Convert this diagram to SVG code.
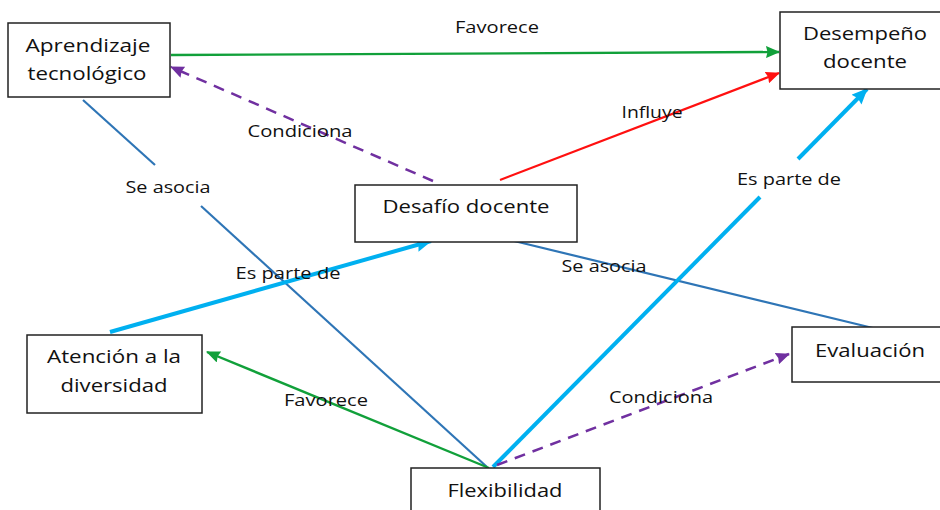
<svg xmlns="http://www.w3.org/2000/svg" width="940" height="510" viewBox="0 0 940 510">
<style>
  .box { fill: #ffffff; stroke: #222222; stroke-width: 1.5; }
  .nt { font-family: "Open Sans", "DejaVu Sans", sans-serif; font-size: 19px; fill: #111111; text-anchor: middle; }
  .lt { font-family: "Open Sans", "DejaVu Sans", sans-serif; font-size: 16px; fill: #111111; text-anchor: middle; }
  .green { stroke: #11A03A; stroke-width: 2.4; fill: none; }
  .red { stroke: #FF1010; stroke-width: 2.2; fill: none; }
  .purple { stroke: #7030A0; stroke-width: 2.5; fill: none; stroke-dasharray: 11 8; }
  .blue { stroke: #2E75B6; stroke-width: 2.2; fill: none; }
  .cyan { stroke: #00B0F0; stroke-width: 4; fill: none; }
</style>
<defs>
  <marker id="aGreen" markerUnits="userSpaceOnUse" markerWidth="14" markerHeight="12" refX="13" refY="6" orient="auto"><path d="M0,0 L14,6 L0,12 L1.5,6 z" fill="#11A03A"/></marker>
  <marker id="aRed" markerUnits="userSpaceOnUse" markerWidth="14" markerHeight="12" refX="13" refY="6" orient="auto"><path d="M0,0 L14,6 L0,12 L1.5,6 z" fill="#FF1010"/></marker>
  <marker id="aPurple" markerUnits="userSpaceOnUse" markerWidth="14" markerHeight="12" refX="13" refY="6" orient="auto"><path d="M0,0 L14,6 L0,12 L1.5,6 z" fill="#7030A0"/></marker>
  <marker id="aCyan" markerUnits="userSpaceOnUse" markerWidth="16" markerHeight="14" refX="15" refY="7" orient="auto"><path d="M0,0 L16,7 L0,14 L2,7 z" fill="#00B0F0"/></marker>
</defs>

<g id="connectors">
  <line class="green" x1="171" y1="55" x2="779" y2="52" marker-end="url(#aGreen)"/>
  <line class="purple" x1="433" y1="181" x2="171" y2="67" marker-end="url(#aPurple)"/>
  <line class="red" x1="500" y1="180" x2="779" y2="73" marker-end="url(#aRed)"/>
  <line class="blue" x1="83" y1="100" x2="155" y2="165"/>
  <line class="blue" x1="201" y1="206" x2="487" y2="467"/>
  <line class="cyan" x1="110" y1="332" x2="431" y2="241" marker-end="url(#aCyan)"/>
  <line class="blue" x1="510" y1="240" x2="877" y2="329"/>
  <line class="cyan" x1="493" y1="467" x2="760" y2="197"/>
  <line class="cyan" x1="798" y1="159" x2="867" y2="89" marker-end="url(#aCyan)"/>
  <line class="green" x1="489" y1="468" x2="207" y2="352" marker-end="url(#aGreen)"/>
  <line class="purple" x1="497" y1="465" x2="789" y2="354" marker-end="url(#aPurple)"/>

  <text class="lt" x="497" y="33" textLength="84" lengthAdjust="spacingAndGlyphs">Favorece</text>
  <text class="lt" x="300" y="137" textLength="105" lengthAdjust="spacingAndGlyphs">Condiciona</text>
  <text class="lt" x="168" y="193" textLength="85" lengthAdjust="spacingAndGlyphs">Se asocia</text>
  <text class="lt" x="652" y="118" textLength="61" lengthAdjust="spacingAndGlyphs">Influye</text>
  <text class="lt" x="789" y="185" textLength="104" lengthAdjust="spacingAndGlyphs">Es parte de</text>
  <text class="lt" x="288" y="279" textLength="105" lengthAdjust="spacingAndGlyphs">Es parte de</text>
  <text class="lt" x="604" y="272" textLength="85" lengthAdjust="spacingAndGlyphs">Se asocia</text>
  <text class="lt" x="326" y="406" textLength="84" lengthAdjust="spacingAndGlyphs">Favorece</text>
  <text class="lt" x="661" y="403" textLength="104" lengthAdjust="spacingAndGlyphs">Condiciona</text>
</g>

<g id="aprendizaje">
  <rect class="box" x="8" y="23" width="162" height="74"/>
  <text class="nt" x="88" y="52" textLength="125" lengthAdjust="spacingAndGlyphs">Aprendizaje</text>
  <text class="nt" x="87" y="80" textLength="119" lengthAdjust="spacingAndGlyphs">tecnológico</text>
</g>
<g id="desempeno">
  <rect class="box" x="780" y="12" width="170" height="77"/>
  <text class="nt" x="865" y="40" textLength="124" lengthAdjust="spacingAndGlyphs">Desempeño</text>
  <text class="nt" x="865" y="68" textLength="84" lengthAdjust="spacingAndGlyphs">docente</text>
</g>
<g id="desafio">
  <rect class="box" x="355" y="185" width="222" height="57"/>
  <text class="nt" x="466" y="213" textLength="167" lengthAdjust="spacingAndGlyphs">Desafío docente</text>
</g>
<g id="atencion">
  <rect class="box" x="27" y="335" width="175" height="78"/>
  <text class="nt" x="114" y="363" textLength="134" lengthAdjust="spacingAndGlyphs">Atención a la</text>
  <text class="nt" x="114" y="392" textLength="107" lengthAdjust="spacingAndGlyphs">diversidad</text>
</g>
<g id="evaluacion">
  <rect class="box" x="792" y="327" width="158" height="55"/>
  <text class="nt" x="870" y="357" textLength="110" lengthAdjust="spacingAndGlyphs">Evaluación</text>
</g>
<g id="flexibilidad">
  <rect class="box" x="411" y="468" width="189" height="50"/>
  <text class="nt" x="505" y="497" textLength="115" lengthAdjust="spacingAndGlyphs">Flexibilidad</text>
</g>
</svg>
